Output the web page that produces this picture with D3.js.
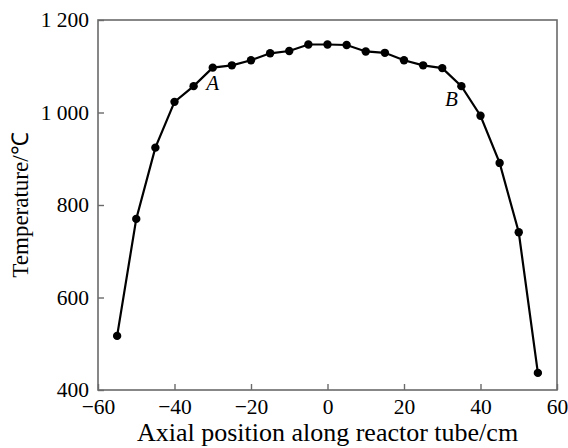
<!doctype html>
<html lang="en">
<head>
<meta charset="utf-8">
<title>Axial temperature profile</title>
<script src="https://d3js.org/d3.v7.min.js"></script>
<style>
    body { margin: 0; background: #fff; }
    text { font-family: "Liberation Serif", "Times New Roman", serif; fill: #000; }
</style>
</head>
<body>
<svg id="chart"></svg>
<script>
    // data
    const position = [-55, -50, -45, -40, -35, -30, -25, -20, -15, -10, -5, 0, 5, 10, 15, 20, 25, 30, 35, 40, 45, 50, 55];
    const temperature = [517, 770, 924, 1023, 1057, 1097, 1102, 1113, 1128, 1133, 1147, 1147, 1146, 1132, 1129, 1113, 1102, 1096, 1057, 993, 891, 741, 437];
    const xTicks = [-60, -40, -20, 0, 20, 40, 60];
    const yTicks = [400, 600, 800, 1000, 1200];
    const annotations = [{ label: "A", x: -30, y: 1097 }, { label: "B", x: 35, y: 1057 }];

    const W = 568, H = 448;
    const margin = { top: 20, right: 11, bottom: 58, left: 98 };
    const width = W - margin.left - margin.right,
        height = H - margin.top - margin.bottom;

    const svg = d3.select("#chart")
        .attr("width", W)
        .attr("height", H);

    const g = svg.append("g")
        .attr("transform", `translate(${margin.left},${margin.top})`);

    const x = d3.scaleLinear().domain([-60, 60]).range([0, width]);
    const y = d3.scaleLinear().domain([400, 1200]).range([height, 0]);

    // frame
    g.append("rect")
        .attr("width", width)
        .attr("height", height)
        .attr("fill", "none")
        .attr("stroke", "#6a6a6a")
        .attr("stroke-width", 1.6);

    // axes, ticks pointing inward
    const fmt = d => d >= 1000 ? d3.format("d")(d).replace(/^(\d)/, "$1 ") : d3.format("d")(d).replace("-", "\u2212");

    const xAxis = g.append("g")
        .attr("transform", `translate(0,${height})`)
        .call(d3.axisBottom(x).tickValues(xTicks).tickSize(-6).tickPadding(9).tickFormat(fmt));
    const yAxis = g.append("g")
        .call(d3.axisLeft(y).tickValues(yTicks).tickSize(-6).tickPadding(9).tickFormat(fmt));

    [xAxis, yAxis].forEach(a => {
        a.attr("font-family", null);
        a.select(".domain").remove();
        a.selectAll(".tick line").attr("stroke", "#6a6a6a").attr("stroke-width", 1.4);
        a.selectAll(".tick text")
            .style("font-family", "'Liberation Serif', serif")
            .style("font-size", "21.5px")
            .attr("fill", "#000");
    });
    xAxis.selectAll(".tick text").attr("dy", "0.71em");

    // curve
    const pts = position.map((p, i) => [p, temperature[i]]);
    g.append("path")
        .datum(pts)
        .attr("fill", "none")
        .attr("stroke", "#000")
        .attr("stroke-width", 2.2)
        .attr("d", d3.line().x(d => x(d[0])).y(d => y(d[1])));

    g.selectAll("circle.pt")
        .data(pts)
        .join("circle")
        .attr("class", "pt")
        .attr("cx", d => x(d[0]))
        .attr("cy", d => y(d[1]))
        .attr("r", 4.2)
        .attr("fill", "#000");

    // A / B marks
    g.selectAll("text.note")
        .data(annotations)
        .join("text")
        .attr("class", "note")
        .attr("x", d => x(d.x) + (d.label === "A" ? 0 : -10))
        .attr("y", d => y(d.y) + (d.label === "A" ? 22 : 20))
        .attr("text-anchor", "middle")
        .attr("font-size", 21)
        .attr("font-style", "italic")
        .text(d => d.label);

    // axis titles
    svg.append("text")
        .attr("x", margin.left + width / 2)
        .attr("y", 441)
        .attr("text-anchor", "middle")
        .attr("font-size", 26)
        .text("Axial position along reactor tube/cm");

    svg.append("text")
        .attr("transform", `translate(28,${margin.top + height / 2}) rotate(-90)`)
        .attr("text-anchor", "middle")
        .attr("font-size", 23)
        .text("Temperature/\u2103");
</script>
</body>
</html>
